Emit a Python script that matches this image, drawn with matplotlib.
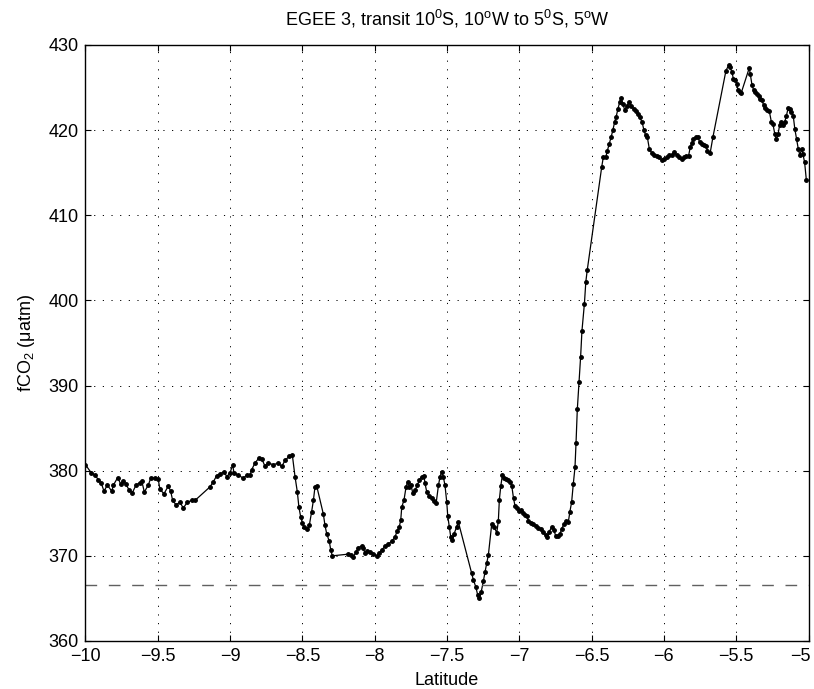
import matplotlib
matplotlib.use("Agg")
import matplotlib.pyplot as plt
import matplotlib.transforms as mtransforms
import numpy as np

plt.rcParams['font.family'] = ['Liberation Sans', 'DejaVu Sans']
plt.rcParams['mathtext.fontset'] = 'custom'
plt.rcParams['mathtext.rm'] = 'Liberation Sans'
plt.rcParams['mathtext.it'] = 'Liberation Sans:italic'

# transit data
lat = [-10.0, -9.96, -9.934, -9.91, -9.89, -9.872, -9.849, -9.818, -9.807, -9.777,
       -9.756, -9.738, -9.72, -9.697, -9.676, -9.651, -9.623, -9.611, -9.593, -9.566,
       -9.547, -9.519, -9.497, -9.485, -9.457, -9.427, -9.411, -9.397, -9.374, -9.346,
       -9.324, -9.296, -9.266, -9.243,
       -9.139, -9.116, -9.093, -9.07, -9.042, -9.023, -9.0, -8.982, -8.973, -8.943,
       -8.909, -8.885, -8.862, -8.851, -8.828, -8.8, -8.781, -8.758, -8.735, -8.701,
       -8.667, -8.643, -8.62, -8.591, -8.57, -8.551, -8.535, -8.524, -8.512, -8.501,
       -8.49, -8.47, -8.452, -8.436, -8.424, -8.413, -8.401, -8.355, -8.344, -8.332,
       -8.314, -8.304, -8.293,
       -8.182, -8.166, -8.148, -8.13, -8.114, -8.09, -8.079, -8.067, -8.051, -8.033,
       -8.01, -7.987, -7.968, -7.952, -7.929, -7.906, -7.883, -7.86, -7.844, -7.83,
       -7.82, -7.813, -7.797, -7.783, -7.772, -7.761, -7.749, -7.737, -7.721, -7.705,
       -7.691, -7.675, -7.659, -7.652, -7.64, -7.624, -7.605, -7.589, -7.575, -7.559,
       -7.548, -7.537, -7.526, -7.514, -7.502, -7.495, -7.484, -7.474, -7.463, -7.451,
       -7.433, -7.422,
       -7.33, -7.318, -7.3, -7.288, -7.277, -7.263, -7.249, -7.237, -7.226, -7.214,
       -7.191, -7.173, -7.156, -7.145, -7.138, -7.128, -7.117, -7.105, -7.092, -7.077,
       -7.063, -7.052, -7.04, -7.029, -7.013, -7.0, -6.99, -6.976, -6.96, -6.948,
       -6.937, -6.921, -6.903, -6.884, -6.868, -6.852, -6.834, -6.817, -6.806, -6.794,
       -6.776, -6.76, -6.748, -6.734, -6.718, -6.707, -6.691, -6.677, -6.661, -6.65,
       -6.638, -6.627, -6.615, -6.608, -6.599, -6.587, -6.576, -6.567, -6.55, -6.54,
       -6.53,
       -6.43, -6.419, -6.402, -6.391, -6.378, -6.365, -6.353, -6.341, -6.33, -6.318,
       -6.306, -6.295, -6.284, -6.272, -6.256, -6.242, -6.225, -6.209, -6.195, -6.179,
       -6.167, -6.151, -6.139, -6.127, -6.115, -6.101, -6.085, -6.068, -6.05, -6.032,
       -6.013, -5.997, -5.98, -5.962, -5.946, -5.93, -5.911, -5.893, -5.876, -5.86,
       -5.846, -5.83, -5.818, -5.807, -5.796, -5.779, -5.765, -5.754, -5.738, -5.722,
       -5.708, -5.699, -5.68, -5.661,
       -5.571, -5.553, -5.542, -5.53, -5.519, -5.507, -5.495, -5.488, -5.477, -5.465,
       -5.41, -5.403, -5.391, -5.38, -5.368, -5.357, -5.345, -5.334, -5.322, -5.31,
       -5.299, -5.287, -5.271, -5.257, -5.246, -5.234, -5.223, -5.211, -5.2, -5.188,
       -5.176, -5.165, -5.153, -5.141, -5.13, -5.12, -5.106, -5.095, -5.083, -5.071,
       -5.06, -5.048, -5.039, -5.027, -5.015]

fco2 = [380.7, 379.75, 379.5, 378.9, 378.5, 377.6, 378.3, 377.6, 378.3, 379.2,
        378.4, 378.8, 378.4, 377.7, 377.4, 378.3, 378.6, 378.8, 377.5, 378.3,
        379.2, 379.1, 379.0, 377.8, 377.3, 378.2, 377.6, 376.5, 376.0, 376.3,
        375.6, 376.3, 376.5, 376.5,
        378.1, 378.7, 379.4, 379.6, 379.9, 379.3, 379.75, 380.7, 379.7, 379.5,
        379.1, 379.5, 379.5, 380.1, 380.9, 381.5, 381.4, 380.5, 380.9, 380.7,
        380.9, 380.5, 381.2, 381.7, 381.9, 379.3, 377.5, 375.7, 374.6, 373.9,
        373.4, 373.1, 373.6, 375.2, 376.5, 378.1, 378.2, 374.9, 373.6, 372.6,
        371.7, 370.7, 370.0,
        370.2, 370.1, 369.9, 370.4, 370.95, 371.15, 370.9, 370.3, 370.6, 370.4,
        370.2, 370.0, 370.3, 370.7, 371.1, 371.4, 371.7, 372.2, 372.95, 373.4,
        374.2, 375.7, 376.6, 378.1, 378.7, 378.1, 378.3, 377.4, 377.7, 378.3,
        378.9, 379.3, 379.4, 378.5, 377.5, 377.05, 376.75, 376.4, 376.2, 378.3,
        379.3, 379.9, 379.3, 378.3, 376.35, 374.7, 373.4, 372.2, 371.85, 372.6,
        373.4, 374.0,
        368.0, 367.2, 366.3, 365.4, 365.0, 365.8, 367.0, 368.1, 369.1, 370.1,
        373.7, 373.35, 372.7, 374.1, 376.6, 378.2, 379.5, 379.2, 379.0, 378.9,
        378.7, 378.2, 376.75, 375.8, 375.6, 375.3, 375.4, 375.0, 374.8, 374.7,
        374.1, 373.9, 373.7, 373.5, 373.3, 373.1, 372.8, 372.4, 372.2, 372.8,
        373.4, 373.0, 372.3, 372.35, 372.6, 373.2, 373.7, 374.1, 374.0, 375.2,
        376.35, 378.4, 380.4, 383.2, 387.2, 390.4, 393.4, 396.4, 399.6, 402.2,
        403.6,
        415.7, 416.85, 416.85, 417.6, 418.4, 419.2, 420.0, 420.95, 421.6, 422.5,
        423.3, 423.8, 423.1, 422.4, 422.8, 423.3, 422.8, 422.5, 422.2, 421.85,
        421.5, 420.95, 420.05, 419.4, 419.2, 417.8, 417.35, 417.1, 416.95, 416.8,
        416.45, 416.65, 416.85, 417.05, 417.1, 417.4, 417.05, 416.8, 416.65, 416.9,
        416.95, 416.95, 418.0, 418.5, 419.0, 419.2, 419.2, 418.6, 418.4, 418.2,
        418.1, 417.55, 417.35, 419.2,
        427.0, 427.6, 427.4, 426.8, 426.0, 425.85, 425.45, 424.7, 424.5, 424.4,
        427.3, 426.6, 425.3, 424.7, 424.5, 424.3, 424.0, 423.7, 423.5, 422.9,
        422.6, 422.4, 422.2, 420.95, 420.7, 419.6, 418.9, 419.5, 420.6, 421.0,
        420.6, 420.95, 421.7, 422.6, 422.5, 422.1, 421.7, 420.15, 418.95, 417.8,
        417.05, 417.8, 417.2, 416.2, 414.1]

atm_level = 366.6
xticks = [-10, -9.5, -9, -8.5, -8, -7.5, -7, -6.5, -6, -5.5, -5]
yticks = [360, 370, 380, 390, 400, 410, 420, 430]

fig = plt.figure(figsize=(8.14, 6.89), dpi=100)
ax = fig.add_axes([0.105, 0.0697, 0.8883, 0.865])

ax.plot(lat, fco2, color='black', lw=0.9, marker='.', markersize=5)
ax.axhline(atm_level, color='#606060', lw=1.0, linestyle=(0, (8.4, 8.4)))

ax.set_xlim(-10, -5)
ax.set_ylim(360, 430)
ax.set_xticks(xticks)
ax.set_xticklabels([('%g' % t).replace('-', '\u2212') for t in xticks])
ax.set_yticks(yticks)
ax.grid(True, color='black', lw=0.7, linestyle=(0, (1.2, 7.7)))
ax.tick_params(direction='in', top=True, right=True, length=4, width=0.8,
               labelsize=13, pad=5)
for s in ax.spines.values():
    s.set_linewidth(1.0)

# last tick label sits at the figure edge; nudge it left so it stays inside
last = ax.get_xticklabels()[-1]
last.set_transform(last.get_transform() +
                   mtransforms.ScaledTranslation(-6 / 72, 0, fig.dpi_scale_trans))

ax.set_xlabel('Latitude', fontsize=13, labelpad=5)
ax.set_ylabel('fCO$_2$ (\u03bcatm)', fontsize=13, labelpad=8)
ax.set_title('EGEE 3, transit 10$^0$S, 10$^\\mathrm{o}$W to 5$^0$S, 5$^\\mathrm{o}$W',
             fontsize=13, pad=14)

fig.savefig('out.png', dpi=100)
